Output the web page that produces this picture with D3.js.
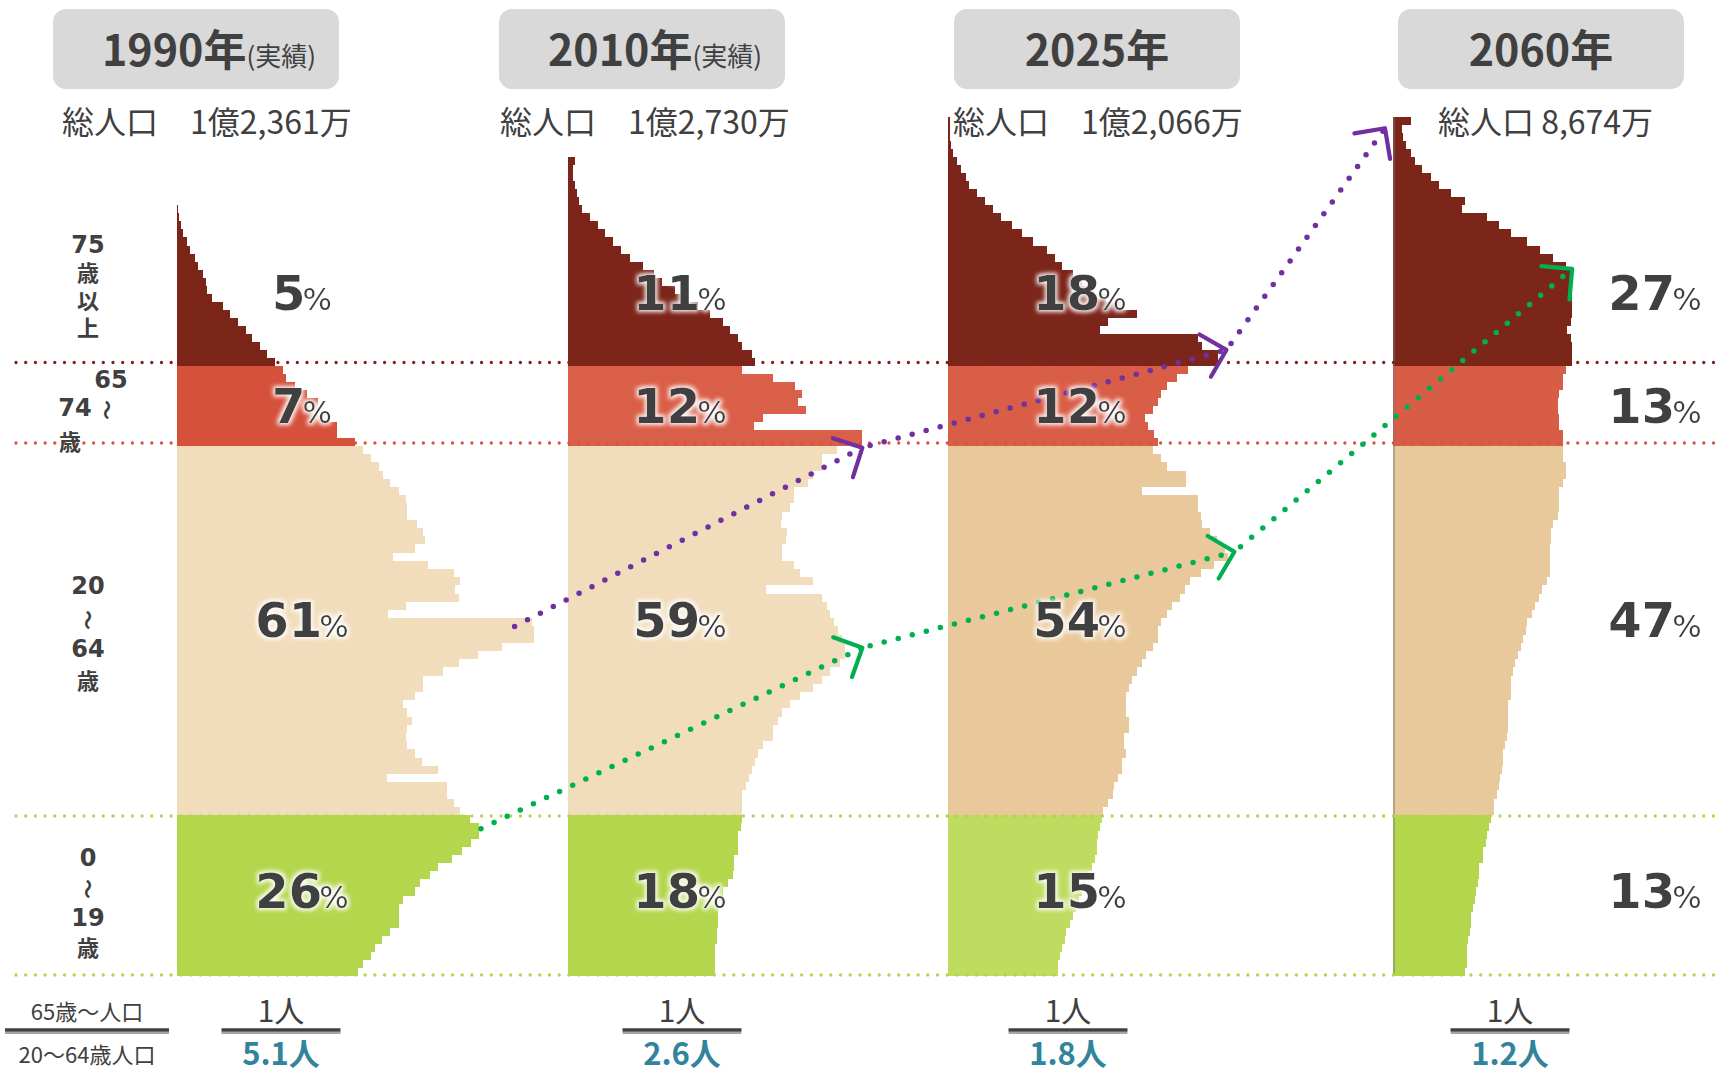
<!DOCTYPE html>
<html><head><meta charset="utf-8">
<script src="https://cdn.jsdelivr.net/npm/d3@7"></script>
<style>
html,body{margin:0;padding:0;background:#fff;}
svg{display:block;}
</style></head><body>
<svg id="c" width="1717" height="1073"></svg>
<script>
// ---------------- DATA ----------------
const years = ["1990", "2010", "2025", "2060"];
const yearNotes = ["(実績)", "(実績)", "", ""];
const totals = ["総人口　1億2,361万", "総人口　1億2,730万", "総人口　1億2,066万", "総人口 8,674万"];

// population by single year of age (万人), age 0 upward
const pop1990 = [113,116,121,124,128,133,139,139,139,141, 149,152,158,163,172,178,184,189,189,183,
  177,173,169,169,131,163,153,149,144,143, 144,147,144,141,149,154,154,166,176,188,
  203,223,223,222,132,143,176,174,177,173, 157,135,149,155,154,150,144,144,143,139,
  133,129,126,121,116,111,100,100,93,88, 88,81,74,68,66,61,56,52,47,43,
  38,33,29,22,19,18,16,13,11,8, 6,4,2.5,1.4,0.6];
const pop2010 = [92,92,92,92,93,93,94,94,94,97, 97,100,103,104,104,106,106,106,108,109,
  109,109,109,111,113,115,117,119,122,128, 128,131,134,139,145,153,159,164,170,173,
  173,171,169,166,164,162,159,124,153,145, 141,134,134,136,137,133,134,139,141,141,
  150,153,159,159,168,184,184,116,122,149, 144,146,142,128,109,117,115,109,106,101,
  97,89,81,74,67,59,54,47,39,33, 28,23,19,14,9,7,5.4,4.4,3.3,3.1,4.4];
const pop2025 = [69,69,70,71,73,74,76,78,80,82, 84,86,88,90,92,93,93,94,95,96,
  97,100,103,104,106,109,109,111,110,110, 113,113,111,111,111,113,115,118,121,124,
  128,131,131,133,137,140,145,148,151,158, 166,175,173,168,164,159,158,156,156,121,
  149,149,137,133,128,131,129,125,123,128, 131,133,137,143,150,169,169,159,156,95,
  100,118,108,99,91,84,78,71,67,62, 53,46,40,33,28,23,18,13,11,8,
  5.4,3.3,1.7,1.3,1.3,1.3];
const pop2060 = [45,46,46,46,47,48,49,49,50,51, 52,53,54,54,56,56,58,59,60,61,
  63,63,65,66,67,68,69,69,70,71, 72,72,72,72,74,74,74,75,76,78,
  80,81,83,84,87,89,91,93,96,98, 98,98,98,99,99,100,103,104,104,104,
  106,108,108,106,106,106,106,104,104,103, 103,104,106,106,108,112,112,112,111,109,
  111,112,112,112,111,112,111,108,100,92, 84,74,66,59,43,45,36,29,24,18,
  14,11,8,6,5.4,11];

// share of each age group (%)
const share0to19 = [26, 18, 15, 13];
const share20to64 = [61, 59, 54, 47];
const share65to74 = [7, 12, 12, 13];
const share75plus = [5, 11, 18, 27];

// working-age people per elderly person
const supportRatio = [5.1, 2.6, 1.8, 1.2];

// cohorts traced by the arrows: column index, age, population (万人)
const cohortBoomers = [{col:0, age:43, pop:211}, {col:1, age:64.8, pop:184}, {col:2, age:77, pop:174}, {col:3, age:104.6, pop:-5}];
const cohortJuniors = [{col:0, age:18.3, pop:190}, {col:1, age:40.4, pop:184}, {col:2, age:52.1, pop:179}, {col:3, age:87.1, pop:112}];

// ---------------- LAYOUT / STYLE ----------------
const layout = {
  left: [177, 568, 948, 1393],
  boxX: [53, 499, 954, 1398],
  totalX: [62, 500, 953, 1438],
  labelX: [302, 680, 1080, 1655],
  fracX: [281, 682, 1068, 1510],
  labelBase: [908, 637, 423, 310] // groups 0-19, 20-64, 65-74, 75+
};
const palettes = [
  ["#b3d64d", "#f1dcbb", "#d5513b", "#7b2519"],
  ["#b4d64d", "#f1dcbb", "#da5f48", "#7d251a"],
  ["#bfdb60", "#e9c99b", "#d95e48", "#7c251a"],
  ["#b3d64d", "#e8c99b", "#d75d47", "#7c2519"]
];
const dark = "#404040";
const cjk = "'Noto Sans CJK JP','Noto Sans',sans-serif";
const latinBold = "'DejaVu Sans','Verdana',sans-serif";

// ---------------- SCALES ----------------
const y = d3.scaleLinear().domain([0, 20, 65, 75, 106]).range([976, 815, 446, 366, 117]);
const x = d3.scaleLinear().domain([0, 100]).range([0, 160]);
const groupOf = a => a >= 75 ? 3 : a >= 65 ? 2 : a >= 20 ? 1 : 0;

const svg = d3.select("#c");
const defs = svg.append("defs");
const f = defs.append("filter").attr("id", "glow").attr("x", "-20%").attr("y", "-30%").attr("width", "140%").attr("height", "160%");
f.append("feMorphology").attr("in", "SourceAlpha").attr("operator", "dilate").attr("radius", 2).attr("result", "d");
f.append("feGaussianBlur").attr("in", "d").attr("stdDeviation", 2.2).attr("result", "b");
f.append("feFlood").attr("flood-color", "#fff").attr("flood-opacity", 0.95).attr("result", "w");
f.append("feComposite").attr("in", "w").attr("in2", "b").attr("operator", "in").attr("result", "g");
const fm = f.append("feMerge");
fm.append("feMergeNode").attr("in", "g");
fm.append("feMergeNode").attr("in", "SourceGraphic");

// ---------------- HEADERS ----------------
years.forEach((yr, i) => {
  const bx = layout.boxX[i];
  svg.append("rect").attr("x", bx).attr("y", 9).attr("width", 286).attr("height", 80).attr("rx", 13).attr("fill", "#d9d9d9");
  const t = svg.append("text").attr("x", bx + 143 + (yearNotes[i] ? 13 : 0)).attr("y", 66)
    .attr("text-anchor", "middle").attr("fill", dark).style("font-family", cjk);
  t.append("tspan").attr("font-weight", 700).attr("font-size", 43).text(yr + "年");
  if (yearNotes[i]) t.append("tspan").attr("font-weight", 400).attr("font-size", 26).text(yearNotes[i]);
  svg.append("text").attr("x", layout.totalX[i]).attr("y", 134).attr("fill", dark)
    .style("font-family", cjk).attr("font-size", 32).text(totals[i]);
});

// ---------------- PYRAMIDS ----------------
const pops = [pop1990, pop2010, pop2025, pop2060];
pops.forEach((p, i) => {
  const g = svg.append("g").attr("shape-rendering", "crispEdges");
  g.selectAll("rect").data(p.map((v, a) => ({a, v}))).join("rect")
    .attr("x", layout.left[i])
    .attr("y", d => y(d.a + 1))
    .attr("width", d => x(d.v))
    .attr("height", d => y(d.a) - y(d.a + 1))
    .attr("fill", d => palettes[i][groupOf(d.a)]);
});
// thin edge on the 2060 pyramid
svg.append("line").attr("x1", layout.left[3] + 1).attr("x2", layout.left[3] + 1)
  .attr("y1", y(106)).attr("y2", y(0)).attr("stroke", "#777").attr("stroke-opacity", 0.45).attr("stroke-width", 2);

// ---------------- REFERENCE LINES ----------------
const refLines = [
  {age: 75, off: -3.5, color: "#7b2418"},
  {age: 65, off: -3, color: "#d9533e"},
  {age: 20, off: 1, color: "#b3d54b"},
  {age: 0, off: -1, color: "#b3d54b"}
];
refLines.forEach(r => {
  svg.append("line").attr("x1", 16).attr("x2", 1717).attr("y1", y(r.age) + r.off).attr("y2", y(r.age) + r.off)
    .attr("stroke", r.color).attr("stroke-width", 3.3).attr("stroke-linecap", "round").attr("stroke-dasharray", "0 9.7");
});

// ---------------- ARROWS ----------------
function drawArrow(points, color) {
  const pts = points.map(p => [layout.left[p.col] + x(p.pop), y(p.age)]);
  for (let k = 1; k < pts.length; k++) {
    const [x0, y0] = pts[k - 1], [x1, y1] = pts[k];
    const ang = Math.atan2(y1 - y0, x1 - x0);
    svg.append("line").attr("x1", x0 + Math.cos(ang) * (k > 1 ? 8 : 0)).attr("y1", y0 + Math.sin(ang) * (k > 1 ? 8 : 0))
      .attr("x2", x1).attr("y2", y1)
      .attr("stroke", color).attr("stroke-width", 5.5).attr("stroke-linecap", "round").attr("stroke-dasharray", "0 14.5");
    const L = 31;
    const a1 = ang + Math.PI - Math.PI / 4, a2 = ang + Math.PI + Math.PI / 4;
    const p = d3.path();
    p.moveTo(x1 + L * Math.cos(a1), y1 + L * Math.sin(a1));
    p.lineTo(x1, y1);
    p.lineTo(x1 + L * Math.cos(a2), y1 + L * Math.sin(a2));
    svg.append("path").attr("d", p.toString()).attr("fill", "none").attr("stroke", color)
      .attr("stroke-width", 4.2).attr("stroke-linecap", "round").attr("stroke-linejoin", "round");
  }
}
drawArrow(cohortBoomers, "#7030a0");
drawArrow(cohortJuniors, "#00b050");

// ---------------- PERCENT LABELS ----------------
const shares = [share0to19, share20to64, share65to74, share75plus];
shares.forEach((arr, gi) => {
  arr.forEach((v, i) => {
    const t = svg.append("text").attr("x", layout.labelX[i]).attr("y", layout.labelBase[gi])
      .attr("text-anchor", "middle").attr("fill", dark).attr("filter", "url(#glow)");
    t.append("tspan").style("font-family", latinBold).attr("font-weight", 700).attr("font-size", 48).text(v);
    t.append("tspan").style("font-family", latinBold).attr("font-weight", 400).attr("font-size", 31).attr("dx", -3).text("%");
  });
});

// ---------------- LEFT AGE LABELS ----------------
const ageNums = [
  {t: "75", x: 88, y: 253}, {t: "65", x: 111, y: 388}, {t: "74", x: 75, y: 416},
  {t: "20", x: 88, y: 594}, {t: "64", x: 88, y: 657},
  {t: "0", x: 88, y: 866}, {t: "19", x: 88, y: 926}
];
const ageKanji = [{t: "歳", x: 70, y: 450}, {t: "歳", x: 88, y: 689}, {t: "歳", x: 88, y: 956}];
const waveMarks = [{x: 107, y: 410}, {x: 88, y: 620}, {x: 88, y: 889}];
ageNums.forEach(d => {
  svg.append("text").attr("x", d.x).attr("y", d.y).attr("text-anchor", "middle").attr("fill", dark)
    .style("font-family", latinBold).attr("font-weight", 700).attr("font-size", 24).text(d.t);
});
ageKanji.forEach(d => {
  svg.append("text").attr("x", d.x).attr("y", d.y).attr("text-anchor", "middle").attr("fill", dark)
    .style("font-family", cjk).attr("font-weight", 700).attr("font-size", 22).text(d.t);
});
// vertical "歳以上" under 75
svg.append("text").attr("x", 88).attr("y", 262).style("writing-mode", "vertical-rl")
  .attr("letter-spacing", 5.5).attr("fill", dark).style("font-family", cjk).attr("font-weight", 700)
  .attr("font-size", 22).text("歳以上");
waveMarks.forEach(d => {
  svg.append("text").attr("transform", `translate(${d.x},${d.y}) rotate(90)`).attr("text-anchor", "middle")
    .attr("dominant-baseline", "central").attr("fill", dark).style("font-family", cjk).attr("font-weight", 700)
    .attr("font-size", 20).text("〜");
});

// ---------------- BOTTOM FRACTIONS ----------------
function fracLine(cx, half) {
  svg.append("line").attr("x1", cx - half).attr("x2", cx + half).attr("y1", 1033).attr("y2", 1033)
    .attr("stroke", "#a6a6a6").attr("stroke-width", 2);
  svg.append("line").attr("x1", cx - half).attr("x2", cx + half).attr("y1", 1030).attr("y2", 1030)
    .attr("stroke", dark).attr("stroke-width", 3.5);
}
fracLine(87, 82);
svg.append("text").attr("x", 87).attr("y", 1020).attr("text-anchor", "middle").attr("fill", dark)
  .style("font-family", cjk).attr("font-size", 22).text("65歳～人口");
svg.append("text").attr("x", 87).attr("y", 1063).attr("text-anchor", "middle").attr("fill", dark)
  .style("font-family", cjk).attr("font-size", 22).text("20～64歳人口");
supportRatio.forEach((r, i) => {
  const cx = layout.fracX[i];
  fracLine(cx, 59.5);
  svg.append("text").attr("x", cx).attr("y", 1022).attr("text-anchor", "middle").attr("fill", dark)
    .style("font-family", cjk).attr("font-size", 30).text("1人");
  svg.append("text").attr("x", cx).attr("y", 1065).attr("text-anchor", "middle").attr("fill", "#31849b")
    .style("font-family", cjk).attr("font-weight", 700).attr("font-size", 31).text(r.toFixed(1) + "人");
});
</script>
</body></html>
